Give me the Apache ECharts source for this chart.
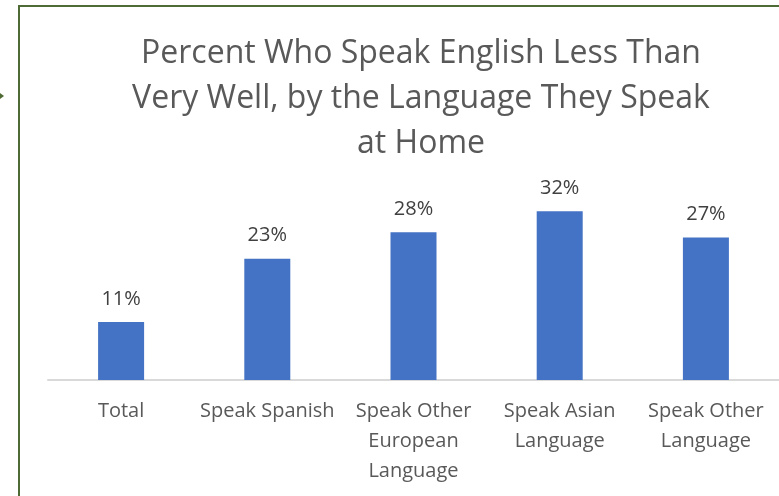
<!DOCTYPE html>
<html><head><meta charset="utf-8">
<script src="https://cdn.jsdelivr.net/npm/echarts@6/dist/echarts.min.js"></script>
<style>html,body{margin:0;padding:0;background:#fff}#c{width:779px;height:496px}</style>
</head><body><div id="c"></div>
<script>
const titleText = 'Percent Who Speak English Less Than\nVery Well, by the Language They Speak\nat Home';
const categories = ['Total', 'Speak Spanish', 'Speak Other\nEuropean\nLanguage', 'Speak Asian\nLanguage', 'Speak Other\nLanguage'];
const values = [11, 23, 28, 32, 27];
const FONT = '"Open Sans", "Noto Sans", sans-serif';
const chart = echarts.init(document.getElementById('c'));
chart.setOption({
  animation: false,
  backgroundColor: '#ffffff',
  title: {
    text: titleText, left: 416, top: 26, textAlign: 'center',
    textStyle: { fontFamily: FONT, fontSize: 32, fontWeight: 'normal', color: '#595959', lineHeight: 45 }
  },
  grid: { left: 48, width: 735, top: 169, bottom: 116, containLabel: false },
  xAxis: {
    type: 'category', data: categories,
    axisLine: { lineStyle: { color: '#d9d9d9', width: 2 } },
    axisTick: { show: false },
    axisLabel: { fontFamily: FONT, fontSize: 20, color: '#595959', lineHeight: 30, margin: 16, interval: 0 }
  },
  yAxis: { type: 'value', min: 0, max: 40, show: false, splitLine: { show: false } },
  series: [{
    type: 'bar', data: values, barWidth: 46,
    itemStyle: { color: '#4472c4' },
    label: { show: true, position: 'top', distance: 13, formatter: '{c}%', fontFamily: FONT, fontSize: 20, color: '#404040' }
  }],
  graphic: [
    { type: 'rect', shape: { x: 19, y: 6, width: 800, height: 520 }, style: { fill: 'none', stroke: '#4f6b35', lineWidth: 2 }, silent: true },
    { type: 'polygon', shape: { points: [[0, 93], [4, 96], [0, 99]] }, style: { fill: '#4f6b35' }, silent: true }
  ]
});
</script></body></html>
